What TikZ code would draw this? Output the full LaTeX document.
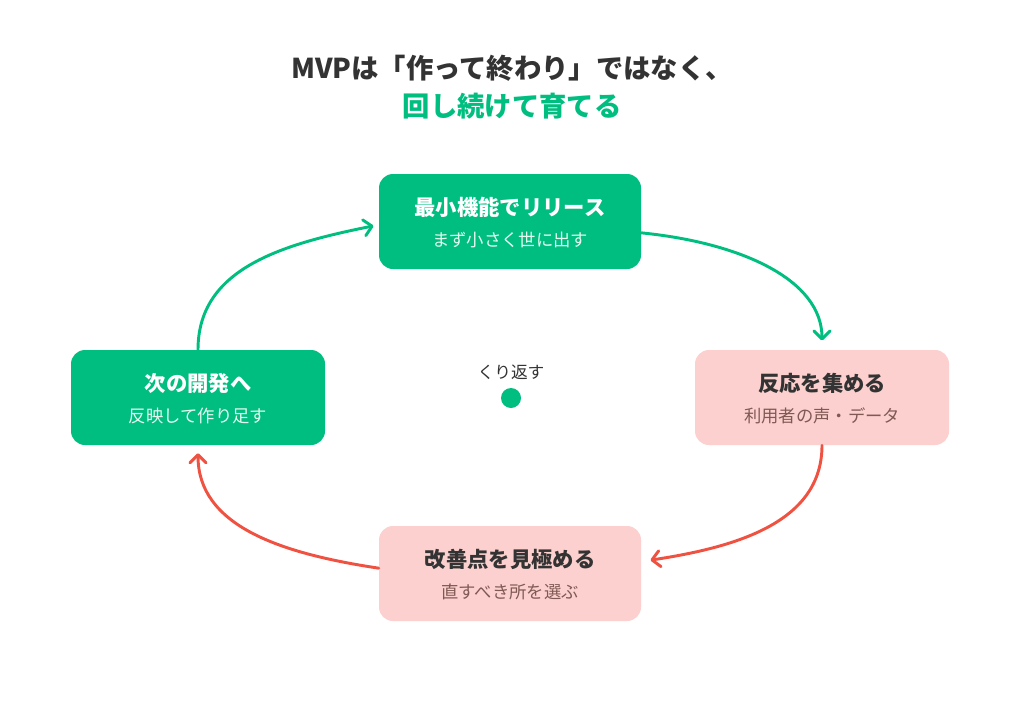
\documentclass[tikz,border=0pt]{standalone}
\usepackage{fontspec}
\setmainfont{Noto Sans CJK JP}
\usetikzlibrary{arrows.meta}

\definecolor{mvpgreen}{RGB}{0,190,128}
\definecolor{mvppink}{RGB}{251,208,206}
\definecolor{mvpred}{RGB}{240,82,66}
\definecolor{mvpdark}{RGB}{51,51,51}
\definecolor{mvpbrown}{RGB}{128,88,84}
\definecolor{mvplight}{RGB}{228,250,240}

\tikzset{
  stagebox/.style={rounded corners=10.5pt, minimum width=196.5pt, minimum height=71.25pt, inner sep=0pt},
  sidebox/.style={stagebox, minimum width=190.5pt},
  headtext/.style={inner sep=0pt, font=\bfseries\fontsize{16}{16}\selectfont},
  subtext/.style={inner sep=0pt, font=\fontsize{13}{13}\selectfont},
  looparrow/.style={line width=2.2pt, line cap=round, -{Straight Barb[length=6pt,width=12pt,round]}},
}

\begin{document}
\begin{tikzpicture}[x=0.75pt,y=-0.75pt]
\fill[white] (0,0) rectangle (1024,707);
\useasboundingbox (0,0) rectangle (1024,707);

% title
\node[inner sep=0pt, text=mvpdark, font=\bfseries\fontsize{20.5}{20.5}\selectfont] (title) at (512,68) {MVPは「作って終わり」ではなく、};
\node[inner sep=0pt, text=mvpgreen, font=\bfseries\fontsize{20.5}{20.5}\selectfont] (subtitle) at (512,106) {回し続けて育てる};

% four stages
\node[stagebox, fill=mvpgreen] (release) at (510,221.5) {};
\node[headtext, text=white] (releasehead) at (510,207) {最小機能でリリース};
\node[subtext, text=mvplight] (releasesub) at (510,240) {まず小さく世に出す};

\node[sidebox, fill=mvppink] (collect) at (822,397.5) {};
\node[headtext, text=mvpdark] (collecthead) at (822,383) {反応を集める};
\node[subtext, text=mvpbrown] (collectsub) at (822,416) {利用者の声・データ};

\node[stagebox, fill=mvppink] (judge) at (510,573.5) {};
\node[headtext, text=mvpdark] (judgehead) at (510,559) {改善点を見極める};
\node[subtext, text=mvpbrown] (judgesub) at (510,592) {直すべき所を選ぶ};

\node[sidebox, fill=mvpgreen] (next) at (198,397.5) {};
\node[headtext, text=white] (nexthead) at (198,383) {次の開発へ};
\node[subtext, text=mvplight] (nextsub) at (198,416) {反映して作り足す};

% center
\node[inner sep=0pt, text=mvpdark, font=\fontsize{12.5}{12.5}\selectfont] (repeat) at (511,372) {くり返す};
\node[circle, fill=mvpgreen, minimum size=15pt, inner sep=0pt] (hub) at (511,398) {};

% loop
\draw[looparrow, mvpgreen, shorten >=4pt] (next.north) .. controls +(0,-80) and +(-100,20) .. ([yshift=-2.5pt]release.west);
\draw[looparrow, mvpgreen, shorten >=7pt] ([yshift=-8.5pt]release.east) .. controls +(100,10) and +(0,-70) .. (collect.north);
\draw[looparrow, mvpred, shorten >=7pt] (collect.south) .. controls +(0,75) and +(100,-15) .. ([yshift=9pt]judge.east);
\draw[looparrow, mvpred, shorten >=6pt] ([yshift=4pt]judge.west) .. controls +(-100,-15) and +(0,80) .. (next.south);
\end{tikzpicture}
\end{document}
